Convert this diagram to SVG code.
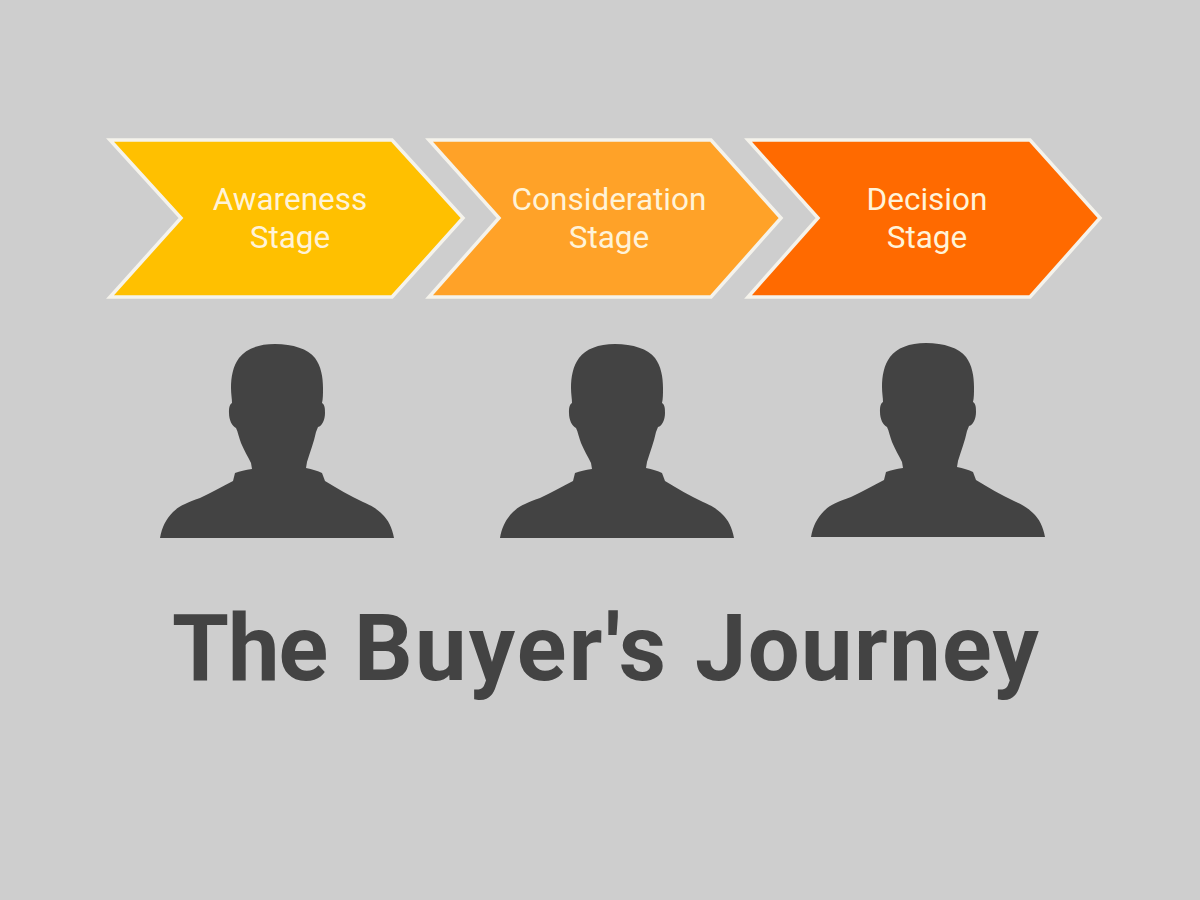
<svg xmlns="http://www.w3.org/2000/svg" width="1200" height="900" viewBox="0 0 1200 900">
<style>
.c{stroke:#f5f3ec;stroke-width:3.5;stroke-linejoin:miter}
.l{font-family:"Roboto","Liberation Sans",sans-serif;font-size:31.5px;fill:#fff3d8;text-anchor:middle}
.p{fill:#434343}
.t{font-family:"Roboto","Liberation Sans",sans-serif;font-weight:700;font-size:92px;fill:#434343}
</style>
<defs>
<path id="person" d="M275 344C258 344 246 349 239 358C233 366 231 377 231 388C231 394 232 399 232 403C229 405 229 409 229 413C229 420 232 426 236 428C238 432 239 438 241 443C244 450 248 457 251 463L252 469C245 470 240 471 235 473L233 481C222 487 212 492 200 498C186 503 179 506 173 512C166 519 162 527 160 538L394 538C392 527 388 520 383 515C376 508 372 506 363 502C350 496 338 489 325 481L322 473C318 471 312 469 306 468L307 462C310 452 314 442 316 432L318 427C322 426 325 420 325 413C325 409 325 405 322 403C323 399 323 394 323 388C323 377 321 366 315 358C308 349 293 344 275 344Z"/>
</defs>
<rect width="1200" height="900" fill="#cecece"/>
<g id="awareness"><polygon class="c" points="110,140 392,140 463,218 392,297 110,297 181,218" fill="#ffc000"/><text class="l"><tspan x="290" y="210">Awareness</tspan><tspan x="290" y="248">Stage</tspan></text></g>
<g id="consideration"><polygon class="c" points="429,140 711,140 781,218 711,297 429,297 499,218" fill="#ffa228"/><text class="l"><tspan x="609" y="210">Consideration</tspan><tspan x="609" y="248">Stage</tspan></text></g>
<g id="decision"><polygon class="c" points="748,140 1030,140 1100,218 1030,297 748,297 818,218" fill="#ff6a00"/><text class="l"><tspan x="927" y="210">Decision</tspan><tspan x="927" y="248">Stage</tspan></text></g>
<g id="person1"><use href="#person" class="p"/></g>
<g id="person2"><use href="#person" class="p" x="340"/></g>
<g id="person3"><use href="#person" class="p" x="651" y="-1"/></g>
<g id="title"><text class="t" y="680"><tspan x="172" letter-spacing="-1">The </tspan><tspan x="354" letter-spacing="2.3">Buyer's </tspan><tspan x="695" letter-spacing="1.4">Journey</tspan></text></g>
</svg>
